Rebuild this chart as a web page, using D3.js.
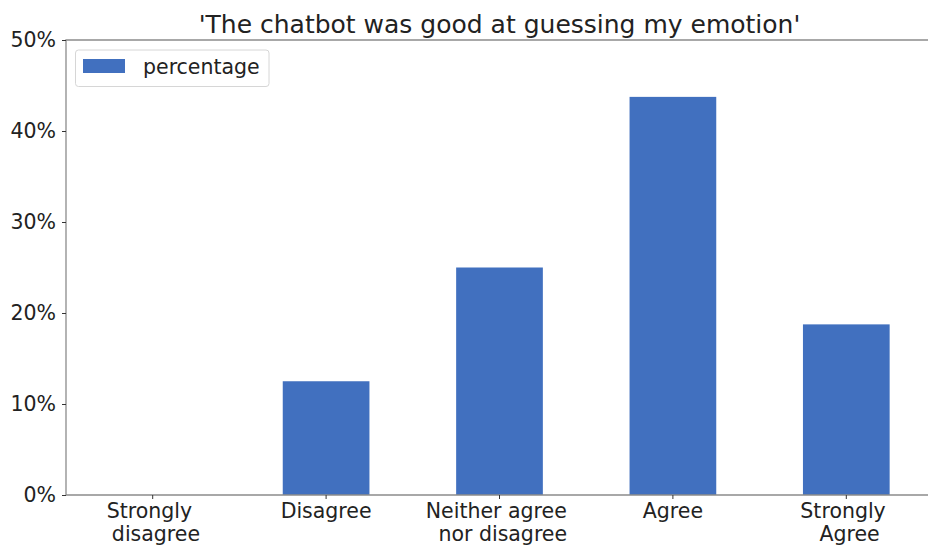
<!DOCTYPE html>
<html>
<head>
<meta charset="utf-8">
<script src="https://cdn.jsdelivr.net/npm/d3@7"></script>
<style>
  body { margin: 0; background: #fff; }
  svg { display: block; }
  svg text { font-family: "DejaVu Sans", sans-serif; }
  .tick text { white-space: pre; }
</style>
</head>
<body>
<div class="chart"></div>
<script>
// ____________________________ data ____________________________
const categories = ["Strongly \n disagree", "Disagree", "Neither agree \n nor disagree", "Agree", "Strongly \n Agree"];
const percentage = [0, 12.5, 25, 43.75, 18.75];
const yTicks = [0, 10, 20, 30, 40, 50];
const seriesName = "percentage";
const title = "'The chatbot was good at guessing my emotion'";

// ____________________________ chart ____________________________
const width = 928;
const height = 545;
const margin = {top: 40, right: -5, bottom: 50, left: 66};
const barColor = "#4170bf";
const spineColor = "#8c8c8c";
const fontSize = 20.5;

const svg = d3.select(".chart")
    .append("svg")
    .attr("width", width)
    .attr("height", height);

const xScale = d3.scaleBand()
    .domain(d3.range(categories.length))
    .range([margin.left, width - margin.right])
    .paddingInner(0.5)
    .paddingOuter(0.25);

const yScale = d3.scaleLinear()
    .domain([0, 50])
    .range([height - margin.bottom, margin.top]);

// bars
svg.append("g")
    .attr("fill", barColor)
    .selectAll("rect")
    .data(percentage)
    .join("rect")
        .attr("x", (d, i) => xScale(i))
        .attr("y", d => yScale(d))
        .attr("width", xScale.bandwidth())
        .attr("height", d => yScale(0) - yScale(d));

// spines
svg.append("path")
    .attr("fill", "none")
    .attr("stroke", spineColor)
    .attr("stroke-width", 1.3)
    .attr("d", `M${width - margin.right},${yScale(50)}H${margin.left}V${yScale(0)}H${width - margin.right}`);

// x axis
const xAxis = svg.append("g")
    .attr("transform", `translate(0,${yScale(0)})`)
    .call(d3.axisBottom(xScale).tickSize(4).tickPadding(6).tickFormat(() => ""));
xAxis.attr("font-family", null).attr("font-size", null);
xAxis.select(".domain").remove();
xAxis.selectAll(".tick line").attr("stroke", "#333");
xAxis.selectAll(".tick text")
    .attr("fill", "#222")
    .attr("font-size", fontSize)
    .each(function(d) {
        const lines = categories[d].split("\n");
        const t = d3.select(this).attr("y", 0).attr("dy", null);
        lines.forEach((ln, k) => {
            t.append("tspan")
                .attr("x", 0)
                .attr("y", 22.5 + k * 23.5)
                .text(ln);
        });
    });

// y axis
const yAxis = svg.append("g")
    .attr("transform", `translate(${margin.left},0)`)
    .call(d3.axisLeft(yScale).tickValues(yTicks).tickSize(4).tickPadding(6).tickFormat(d => d + "%"));
yAxis.attr("font-family", null).attr("font-size", null);
yAxis.select(".domain").remove();
yAxis.selectAll(".tick line").attr("stroke", "#333");
yAxis.selectAll(".tick text")
    .attr("fill", "#222")
    .attr("font-size", fontSize);

// title
svg.append("text")
    .attr("x", (margin.left + width - margin.right) / 2)
    .attr("y", 33)
    .attr("text-anchor", "middle")
    .attr("font-size", 25)
    .attr("fill", "#222")
    .text(title);

// legend
const legend = svg.append("g");
legend.append("rect")
    .attr("x", 75.5).attr("y", 50)
    .attr("width", 193.5).attr("height", 36.5)
    .attr("rx", 3)
    .attr("fill", "#fff")
    .attr("stroke", "#d6d6d6");
legend.append("rect")
    .attr("x", 83).attr("y", 59)
    .attr("width", 42).attr("height", 14)
    .attr("fill", barColor);
legend.append("text")
    .attr("x", 143).attr("y", 73.5)
    .attr("font-size", fontSize)
    .attr("fill", "#222")
    .text(seriesName);
</script>
</body>
</html>
